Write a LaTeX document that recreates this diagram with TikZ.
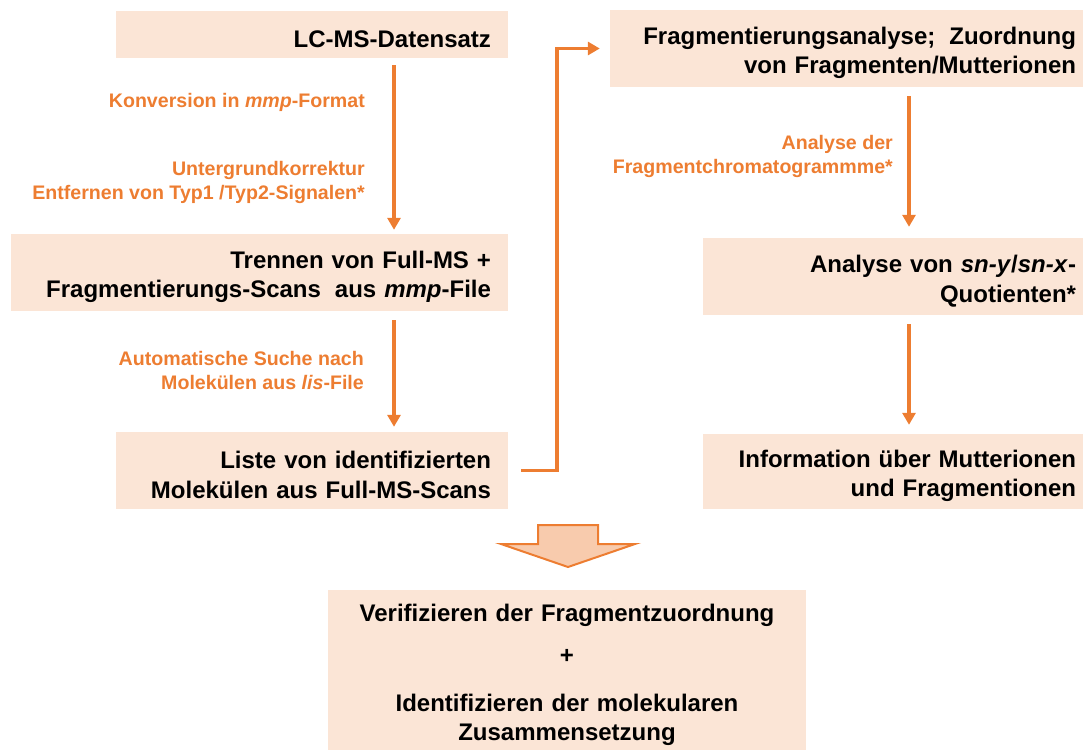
\documentclass[tikz,border=0pt]{standalone}
\usepackage{fontspec}
\setmainfont{Liberation Sans}
\usetikzlibrary{arrows.meta}
\definecolor{accent}{HTML}{ED7D31}
\definecolor{boxfill}{HTML}{FBE5D6}
\definecolor{bigfill}{HTML}{F8CBAD}
% invisible strut that lowers the text block inside a stage box
\newcommand\stagetop{\rule{0pt}{26.5pt}}
\begin{document}
\begin{tikzpicture}[x=1pt,y=-1pt,
  stage/.style={rectangle, fill=boxfill, inner ysep=0pt, inner xsep=17pt,
    align=right, font=\fontsize{24}{29.5}\selectfont\bfseries},
  note/.style={align=right, anchor=base east, inner sep=0pt, text=accent,
    font=\fontsize{19.6}{24}\selectfont\bfseries},
  flow/.style={draw=accent, line width=3.5pt, line join=miter,
    -{Triangle[width=13pt,length=12pt]}}]
\useasboundingbox (0,0) rectangle (1083,749);

% process stages, left column
\node[stage, text width=358pt, minimum height=47pt] (b1) at (312,34.5)
  {\stagetop LC-MS-Datensatz};
\node[stage, text width=463pt, minimum height=77pt] (b2) at (259.5,272.5)
  {\stagetop Trennen von Full-MS +\\Fragmentierungs-Scans\hspace{6pt} aus \textit{mmp}-File};
\node[stage, text width=358pt, minimum height=77pt] (b3) at (312,470.5)
  {\stagetop Liste von identifizierten\\Molekülen aus Full-MS-Scans};

% process stages, right column
\node[stage, text width=449pt, minimum height=77pt] (r1) at (851.5,48.5)
  {\stagetop Fragmentierungsanalyse;\hspace{6pt} Zuordnung\\von Fragmenten/Mutterionen};
\node[stage, text width=356pt, minimum height=77pt] (r2) at (898,276.5)
  {\stagetop Analyse von \textit{sn-y}/\textit{sn-x}-\\Quotienten*};
\node[stage, text width=356pt, minimum height=75pt] (r3) at (898,471.5)
  {\stagetop Information über Mutterionen\\und Fragmentionen};

% final result (its lower edge runs past the page)
\node[stage, align=center, text width=444pt, minimum height=170.6pt,
  font=\fontsize{24}{29}\selectfont\bfseries] (res) at (567,675.3)
  {Verifizieren der Fragmentzuordnung\\[13pt]+\\[19pt]Identifizieren der molekularen\\Zusammensetzung};

% step annotations (anchored at the baseline of their last line)
\node[note] (l1) at (365,108) {Konversion in \textit{mmp}-Format};
\node[note] (l2) at (365,199) {Untergrundkorrektur\\Entfernen von Typ1 /Typ2-Signalen*};
\node[note] (l3) at (364,389) {Automatische Suche nach\\Molekülen aus \textit{lis}-File};
\node[note] (l4) at (893,173) {Analyse der\\Fragmentchromatogrammme*};

% arrow columns
\coordinate (colL) at (394,0);
\coordinate (colR) at (909,0);
\coordinate (jx) at (557,0);

\draw[flow, shorten <=7pt, shorten >=4pt] (b1.south -| colL) -- (b2.north -| colL);
\draw[flow, shorten <=9pt, shorten >=5pt] (b2.south -| colL) -- (b3.north -| colL);
\draw[flow] ([xshift=13pt]b3.east) -| (jx |- r1.west) -- ([xshift=-10pt]r1.west);
\draw[flow, shorten <=9pt, shorten >=11pt] (r1.south -| colR) -- (r2.north -| colR);
\draw[flow, shorten <=9pt, shorten >=9pt] (r2.south -| colR) -- (r3.north -| colR);

% block arrow towards the result
\draw[draw=accent, fill=bigfill, line width=2pt, line join=miter]
  (538,525) -- (598,525) -- (598,544) -- (635,544) -- (568,567)
  -- (501,544) -- (538,544) -- cycle;
\end{tikzpicture}
\end{document}
